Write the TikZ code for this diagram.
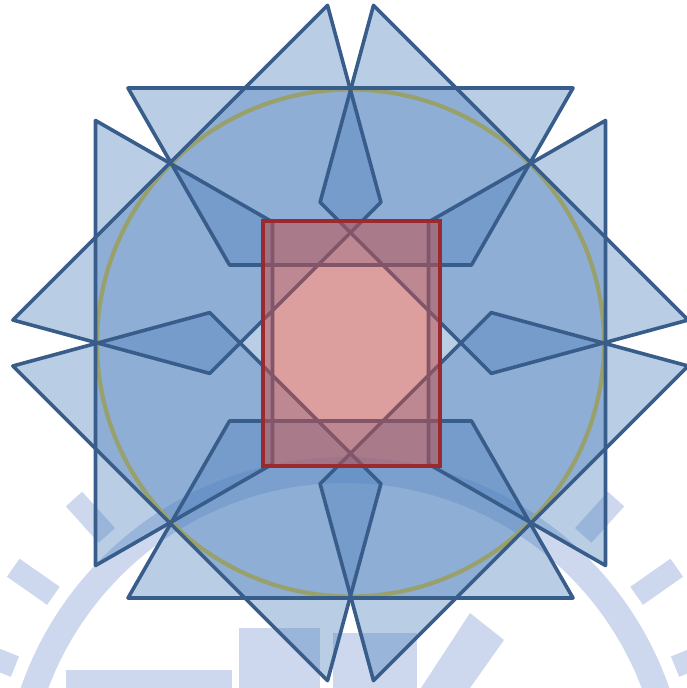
\documentclass[tikz,border=0pt]{standalone}
\definecolor{trapfill}{RGB}{79,129,189}
\definecolor{trapline}{RGB}{56,93,138}
\definecolor{ringcol}{RGB}{152,160,108}
\definecolor{rectfill}{RGB}{192,80,77}
\definecolor{rectline}{RGB}{155,42,46}
\definecolor{wmcol}{RGB}{205,216,238}
\begin{document}
\begin{tikzpicture}[x=1pt,y=-1pt,
  trapfillstyle/.style={fill=trapfill, fill opacity=0.4},
  trapedge/.style={draw=trapline, line width=3.6pt, line join=round},
  ringstyle/.style={draw=ringcol, line width=4.2pt},
  centrebox/.style={draw=rectline, line width=4.4pt, fill=rectfill, fill opacity=0.55},
  wmband/.style={draw=wmcol, line width=26pt},
  wmblock/.style={fill=wmcol}]
\useasboundingbox (0,0) rectangle (687,688);
\coordinate (O) at (350.5,343);
\coordinate (W) at (345,800);
% faint watermark
\draw[wmband] (W) circle (330);
\foreach \t in {22,35,48,132,145,158} {
  \fill[wmcol, shift={(W)}, rotate=\t] (356,-11) rectangle (405,11);
}
\fill[wmblock] (239,628) rectangle (320,688);
\fill[wmblock] (333,633) rectangle (417,688);
\fill[wmblock] (421,688) -- (470,613) -- (504,640) -- (470,688) -- cycle;
\fill[wmblock] (66,670) rectangle (232,688);
% trapezoid fills
\foreach \a in {0,45,...,315} {
  \fill[trapfillstyle, shift={(O)}, rotate=\a] (-222.5,-255) -- (222.5,-255) -- (121,-78) -- (-121,-78) -- cycle;
}
% circle outline
\draw[ringstyle] (O) circle (253.5);
% trapezoid edges
\foreach \a in {0,45,...,315} {
  \draw[trapedge, shift={(O)}, rotate=\a] (-222.5,-255) -- (222.5,-255) -- (121,-78) -- (-121,-78) -- cycle;
}
% central rectangle
\draw[centrebox] (263,221) rectangle (440,466);
\end{tikzpicture}
\end{document}
